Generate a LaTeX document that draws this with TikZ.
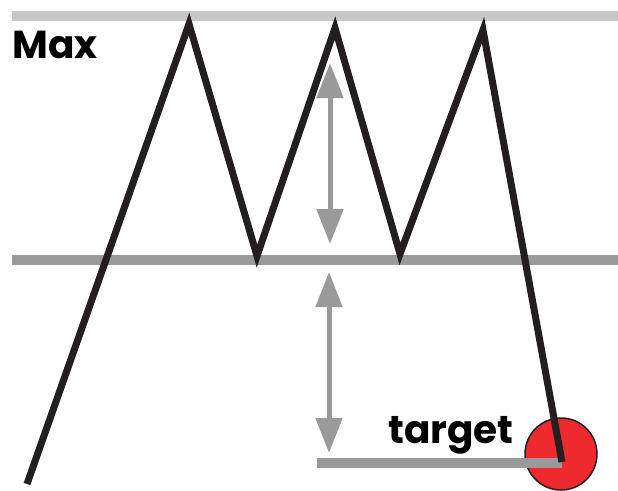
\documentclass[tikz,border=0pt]{standalone}
\usepackage{fontspec}
\setmainfont{Poppins}
\usetikzlibrary{arrows.meta}
\definecolor{zig}{HTML}{231F20}
\definecolor{lgray}{HTML}{C8C8C8}
\definecolor{mgray}{HTML}{9A9A9A}
\definecolor{tred}{HTML}{EE2A2E}
\tikzset{
  level/.style={line width=10pt},
  measure/.style={mgray, line width=5pt, {Triangle[length=35pt,width=26pt]}-{Triangle[length=35pt,width=26pt]}},
  price/.style={zig, line width=7pt, line join=miter, miter limit=10},
  lbl/.style={font=\bfseries\fontsize{39}{39}\selectfont, inner sep=0pt, anchor=base west}
}
\begin{document}
\begin{tikzpicture}[x=1pt,y=-1pt]
\useasboundingbox (0,0) rectangle (618,490);
% levels
\coordinate (t1) at (12,16);
\coordinate (t2) at (618,16);
\coordinate (m1) at (12,260);
\coordinate (m2) at (618,260);
\draw[level, lgray] (t1) -- (t2);
\draw[level, mgray] (m1) -- (m2);
% target
\node[circle, fill=tred, draw=zig, line width=1.5pt, minimum size=72pt, inner sep=0pt] (tgt) at (561,454) {};
\coordinate (b1) at (317,463);
\coordinate (b2) at (562,463);
\draw[level, mgray] (b1) -- (b2);
% price path
\coordinate (p0) at (27,484);
\coordinate (p1) at (189,24);
\coordinate (p2) at (257,256);
\coordinate (p3) at (335,28);
\coordinate (p4) at (400,254);
\coordinate (p5) at (483,30);
\coordinate (p6) at (562,462);
\draw[price] (p0) -- (p1) -- (p2) -- (p3) -- (p4) -- (p5) -- (p6);
% measures
\coordinate (a1) at (330,63);
\coordinate (a2) at (330,244);
\coordinate (c1) at (329,272);
\coordinate (c2) at (329,453);
\draw[measure] (a1) -- (a2);
\draw[measure] (c1) -- (c2);
% labels
\node[lbl] (max) at (12,58) {Max};
\node[lbl] (tl) at (388,443) {target};
\end{tikzpicture}
\end{document}
